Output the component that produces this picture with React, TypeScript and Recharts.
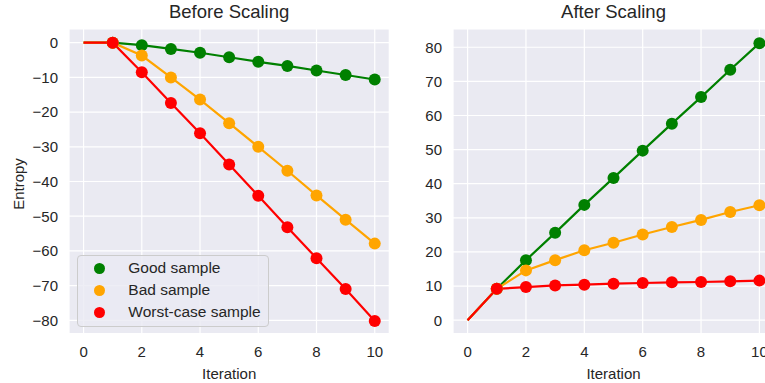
import { CartesianGrid, Legend, Line, LineChart, XAxis, YAxis } from "recharts";

const iterations = [0, 1, 2, 3, 4, 5, 6, 7, 8, 9, 10];

const beforeGood = [0, 0, -0.7, -1.8, -2.9, -4.2, -5.5, -6.7, -8.0, -9.3, -10.6];
const beforeBad = [0, 0, -3.7, -10.0, -16.4, -23.2, -30.0, -36.9, -44.0, -51.0, -57.9];
const beforeWorst = [0, 0, -8.5, -17.4, -26.1, -35.1, -44.1, -53.2, -62.1, -71.0, -80.2];

const afterGood = [0, 9.2, 17.6, 25.6, 33.8, 41.7, 49.7, 57.6, 65.4, 73.4, 81.2];
const afterBad = [0, 9.2, 14.6, 17.6, 20.5, 22.7, 25.1, 27.3, 29.4, 31.7, 33.7];
const afterWorst = [0, 9.2, 9.7, 10.2, 10.4, 10.7, 10.9, 11.1, 11.2, 11.4, 11.6];

const seriesKeys = ["good", "bad", "worst"];
const seriesNames = ["Good sample", "Bad sample", "Worst-case sample"];
const seriesColors = ["#008000", "#FFA500", "#FF0000"];

const xTicks = [0, 2, 4, 6, 8, 10];
const beforeTicks = [0, -10, -20, -30, -40, -50, -60, -70, -80];
const afterTicks = [0, 10, 20, 30, 40, 50, 60, 70, 80];

const FONT = '"Liberation Sans", Arial, sans-serif';
const INK = "#262626";

const toRows = (good: number[], bad: number[], worst: number[]) =>
  iterations.map((it, i) => ({ iteration: it, good: good[i], bad: bad[i], worst: worst[i] }));

// matplotlib-style minus sign
const fmtTick = (v: number) => String(v).replace("-", "\u2212");

// no marker at iteration 0, only the line starts there
const markerFor = (color: string) => (props: any) =>
  props.index === 0 ? (
    <g key={`d-${props.index}`} />
  ) : (
    <circle key={`d-${props.index}`} cx={props.cx} cy={props.cy} r={6} fill={color} stroke="none" />
  );

function LegendBox() {
  return (
    <div
      style={{
        boxSizing: "border-box",
        width: 192,
        padding: "1px 0 2px",
        border: "1px solid #cccccc",
        borderRadius: 4,
        background: "rgba(234,234,242,0.8)",
        fontFamily: FONT,
        fontSize: 15.5,
        color: INK,
      }}
    >
      {seriesNames.map((name, i) => (
        <div key={name} style={{ display: "flex", alignItems: "center", height: 22.2 }}>
          <span
            style={{
              display: "inline-block",
              width: 11,
              height: 11,
              marginLeft: 15.5,
              borderRadius: "50%",
              background: seriesColors[i],
            }}
          />
          <span style={{ marginLeft: 23.5, whiteSpace: "nowrap" }}>{name}</span>
        </div>
      ))}
    </div>
  );
}

type PanelProps = {
  title: string;
  rows: ReturnType<typeof toRows>;
  left: number;
  yWidth: number;
  marginRight: number;
  yDomain: [number, number];
  yTicks: number[];
  yLabel?: string;
  showLegend?: boolean;
};

function Panel({ title, rows, left, yWidth, marginRight, yDomain, yTicks, yLabel, showLegend }: PanelProps) {
  const width = 400;
  const plotCenter = (yWidth + width - marginRight) / 2;
  return (
    <div style={{ position: "absolute", left, top: 0, width, height: 383 }}>
      <div
        style={{
          position: "absolute",
          top: 3.3,
          left: yWidth,
          width: width - marginRight - yWidth,
          textAlign: "center",
          fontFamily: FONT,
          fontSize: 18.5,
          lineHeight: "18.5px",
          color: INK,
          whiteSpace: "nowrap",
        }}
      >
        {title}
      </div>
      <LineChart width={width} height={383} data={rows} margin={{ top: 29, right: marginRight, bottom: 0, left: 0 }}>
        <CartesianGrid stroke="#ffffff" strokeWidth={1.2} fill="#EAEAF2" fillOpacity={1} />
        <XAxis
          dataKey="iteration"
          type="number"
          domain={[-0.5, 10.5]}
          ticks={xTicks}
          allowDataOverflow
          axisLine={false}
          tickLine={false}
          tickSize={8}
          tickMargin={5}
          height={49.5}
          tick={{ fill: INK, fontSize: 15, fontFamily: FONT }}
          label={() => (
            <text x={plotCenter} y={378.5} textAnchor="middle" fill={INK} fontSize={15} fontFamily={FONT}>
              Iteration
            </text>
          )}
        />
        <YAxis
          type="number"
          domain={yDomain}
          ticks={yTicks}
          allowDataOverflow
          axisLine={false}
          tickLine={false}
          tickSize={6}
          tickMargin={5}
          width={yWidth}
          tickFormatter={fmtTick}
          tick={{ fill: INK, fontSize: 15, fontFamily: FONT }}
          label={
            yLabel
              ? () => (
                  <text
                    x={24}
                    y={184}
                    transform="rotate(-90 24 184)"
                    textAnchor="middle"
                    fill={INK}
                    fontSize={15}
                    fontFamily={FONT}
                  >
                    {yLabel}
                  </text>
                )
              : undefined
          }
        />
        {seriesKeys.map((key, i) => (
          <Line
            key={key}
            type="linear"
            dataKey={key}
            name={seriesNames[i]}
            stroke={seriesColors[i]}
            strokeWidth={2.2}
            dot={markerFor(seriesColors[i])}
            activeDot={false}
            isAnimationActive={false}
          />
        ))}
        {showLegend && (
          <Legend
            layout="vertical"
            align="center"
            verticalAlign="middle"
            wrapperStyle={{ left: 77.3, top: 255, width: 192 }}
            content={() => <LegendBox />}
          />
        )}
      </LineChart>
    </div>
  );
}

export default function App() {
  return (
    <div style={{ position: "absolute", left: 0, top: 0, width: 765, height: 383, overflow: "hidden", background: "#ffffff" }}>
      <Panel
        title="Before Scaling"
        rows={toRows(beforeGood, beforeBad, beforeWorst)}
        left={0}
        yWidth={69}
        marginRight={10.7}
        yDomain={[-83.8, 3.95]}
        yTicks={beforeTicks}
        yLabel="Entropy"
        showLegend
      />
      <Panel
        title="After Scaling"
        rows={toRows(afterGood, afterBad, afterWorst)}
        left={390}
        yWidth={63}
        marginRight={16}
        yDomain={[-3.9, 85.35]}
        yTicks={afterTicks}
      />
    </div>
  );
}
